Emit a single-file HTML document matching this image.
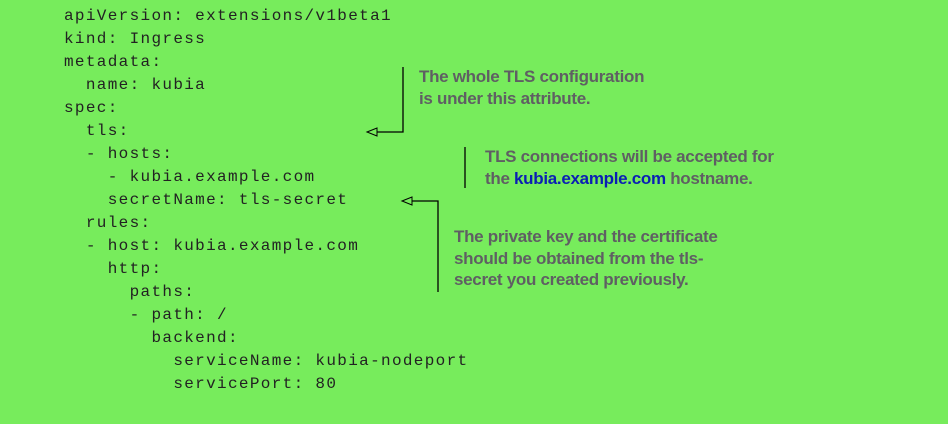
<!DOCTYPE html>
<html><head><style>
body{margin:0;width:948px;height:424px;background:#77ec5c;position:relative;overflow:hidden}
pre{position:absolute;left:64px;top:5px;margin:0;font-family:"Liberation Mono",monospace;font-size:16px;letter-spacing:1.33px;line-height:23px;color:#222}
.a{position:absolute;font-family:"Liberation Sans Narrow","Liberation Sans",sans-serif;font-weight:bold;font-size:17px;letter-spacing:-0.3px;line-height:21.5px;color:#5f5f63;white-space:nowrap}
.b{color:#0a1fb4}
</style></head><body>
<pre>apiVersion: extensions/v1beta1
kind: Ingress
metadata:
  name: kubia
spec:
  tls:
  - hosts:
    - kubia.example.com
    secretName: tls-secret
  rules:
  - host: kubia.example.com
    http:
      paths:
      - path: /
        backend:
          serviceName: kubia-nodeport
          servicePort: 80</pre>
<svg width="948" height="424" style="position:absolute;left:0;top:0">
<g stroke="#000" stroke-width="1.3" fill="none">
<polyline points="403,67 403,132 377,132"/>
<polygon points="367,132 377,128 377,136" stroke-width="1"/>
<line x1="465" y1="147" x2="465" y2="188"/>
<polyline points="438,292 438,201 412,201"/>
<polygon points="402,201 412,197 412,205" stroke-width="1"/>
</g></svg>
<div class="a" style="left:419px;top:66px">The whole TLS configuration<br>is under this attribute.</div>
<div class="a" style="left:485px;top:146px">TLS connections will be accepted for<br>the <span class="b">kubia.example.com</span> hostname.</div>
<div class="a" style="left:454px;top:226px">The private key and the certificate<br>should be obtained from the tls-<br>secret you created previously.</div>
</body></html>
